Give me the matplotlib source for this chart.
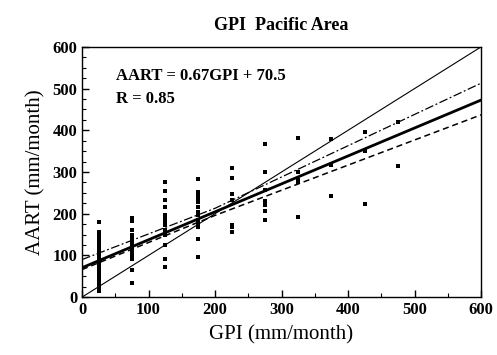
import numpy as np
import matplotlib
matplotlib.use("Agg")
import matplotlib.pyplot as plt
from matplotlib.ticker import MultipleLocator

# GPI classes (mm/month) and the AART values
gpi_25 = [180, 155, 150, 145, 140, 130, 125, 120, 115, 110, 105, 100, 95, 90,
          85, 80, 75, 70, 65, 60, 55, 50, 45, 40, 35, 30, 25, 20, 15]
gpi_75 = [190, 182, 162, 148, 140, 130, 125, 120, 115, 110, 105, 100, 92, 65, 35]
gpi_125 = [276, 254, 234, 215, 196, 189, 180, 172, 160, 148, 126, 92, 72]
gpi_175 = [283, 252, 244, 236, 228, 216, 204, 196, 184, 176, 168, 140, 97]
gpi_225 = [310, 285, 248, 234, 174, 168, 155]
gpi_275 = [367, 301, 258, 230, 222, 206, 185]
gpi_325 = [382, 301, 282, 275, 192]
gpi_375 = [380, 316, 242]
gpi_425 = [395, 350, 223]
gpi_475 = [421, 314]

classes = [25, 75, 125, 175, 225, 275, 325, 375, 425, 475]
columns = [gpi_25, gpi_75, gpi_125, gpi_175, gpi_225,
           gpi_275, gpi_325, gpi_375, gpi_425, gpi_475]

# fit line from the chart text, and the two band lines
slope = 0.67
intercept = 70.5
band_x = [0, 200, 600]
band_upper = [90, 213, 513]
band_lower = [66, 196, 437]

serif = "Liberation Serif"

fig = plt.figure(figsize=(4.97, 3.55), dpi=100)
ax = fig.add_axes([0.165, 0.163, 0.803, 0.705])

xs = []
ys = []
for c, col in zip(classes, columns):
    xs += [c] * len(col)
    ys += col
ax.scatter(xs, ys, marker="s", s=9, color="black", linewidths=0, zorder=3)

line_x = np.array([0, 600])
ax.plot(line_x, line_x, color="black", lw=0.8)
ax.plot(line_x, slope * line_x + intercept, color="black", lw=2.0)
ax.plot(band_x, band_upper, color="black", lw=0.9, ls=(0, (7, 2, 1.5, 2)))
ax.plot(band_x, band_lower, color="black", lw=1.1, ls=(0, (4, 2.5)))

ax.set_xlim(0, 600)
ax.set_ylim(0, 600)
ax.xaxis.set_major_locator(MultipleLocator(100))
ax.xaxis.set_minor_locator(MultipleLocator(50))
ax.yaxis.set_major_locator(MultipleLocator(100))
ax.yaxis.set_minor_locator(MultipleLocator(25))
ax.tick_params(which="both", direction="in", top=False, right=False)
ax.tick_params(which="major", length=5, width=1)
ax.tick_params(which="minor", length=3, width=0.8)
for lab in ax.get_xticklabels() + ax.get_yticklabels():
    lab.set_fontfamily(serif)
    lab.set_fontweight("bold")
    lab.set_fontsize(12)
for sp in ax.spines.values():
    sp.set_linewidth(1.0)

ax.text(0.085, 0.885, "AART = 0.67GPI + 70.5", transform=ax.transAxes,
        fontfamily=serif, fontweight="bold", fontsize=12, va="center")
ax.text(0.085, 0.79, "R = 0.85", transform=ax.transAxes,
        fontfamily=serif, fontweight="bold", fontsize=12, va="center")

ax.set_title("GPI  Pacific Area", fontfamily=serif, fontweight="bold",
             fontsize=13, pad=12)
ax.set_xlabel("GPI (mm/month)", fontfamily=serif, fontsize=15, labelpad=5)
ax.set_ylabel("AART (mm/month)", fontfamily=serif, fontsize=15, labelpad=5)

fig.savefig("out.png", dpi=100)
